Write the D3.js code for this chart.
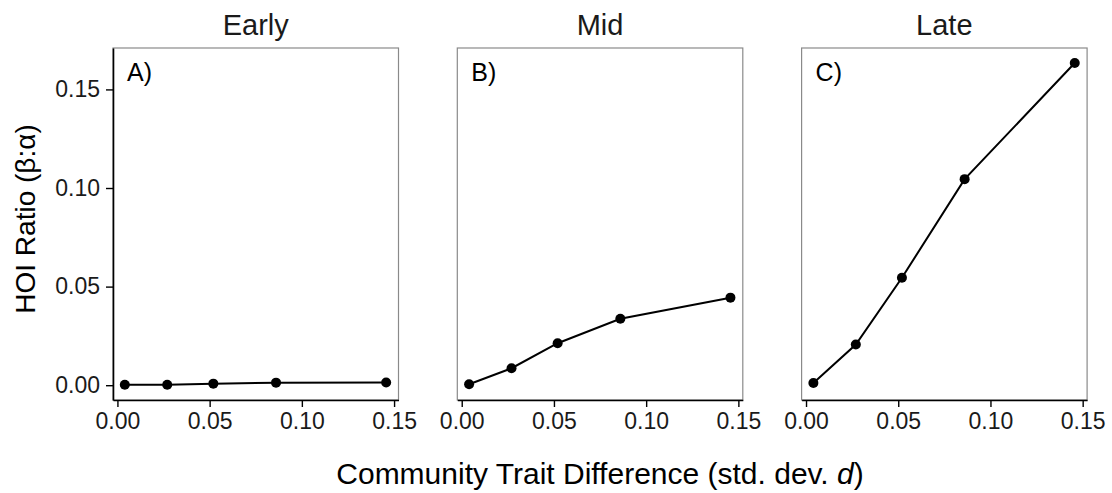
<!DOCTYPE html>
<html>
<head>
<meta charset="utf-8">
<script src="https://cdn.jsdelivr.net/npm/d3@7"></script>
<style>
  html,body{margin:0;padding:0;background:#fff;}
  svg{display:block;font-family:"Liberation Sans",Arial,sans-serif;}
</style>
</head>
<body>
<svg id="chart" width="1112" height="493"></svg>
<script>
// values
const panels=["Early","Mid","Late"];
const panelTags=["A)","B)","C)"];
const traitDiff=[0.004,0.027,0.052,0.086,0.1457];
const hoiEarly=[0.0002,0.0002,0.0008,0.0013,0.0014];
const hoiMid=[0.0005,0.0086,0.0213,0.0337,0.0444];
const hoiLate=[0.0011,0.0206,0.0545,0.1045,0.1634];
const xTicks=[0,0.05,0.10,0.15];
const yTicks=[0,0.05,0.10,0.15];

const series=[hoiEarly,hoiMid,hoiLate];

const svg=d3.select("#chart");
const pTop=48, pBottom=400, left0=113, pw=285.5, step=344.3;

const x=d3.scaleLinear().domain([-0.0024,0.1524]).range([0,pw]);
const y=d3.scaleLinear().domain([-0.0075,0.171]).range([pBottom,pTop]);
const fmt=d3.format(".2f");

panels.forEach((name,i)=>{
  const g=svg.append("g").attr("transform",`translate(${left0+i*step},0)`);

  // panel border
  g.append("rect").attr("x",0).attr("y",pTop).attr("width",pw).attr("height",pBottom-pTop)
    .attr("fill","none").attr("stroke","#8a8a8a").attr("stroke-width",1.2);

  // bottom axis
  g.append("g").attr("transform",`translate(0,${pBottom})`)
    .call(d3.axisBottom(x).tickValues(xTicks).tickFormat(fmt).tickSize(7).tickSizeOuter(0))
    .call(a=>a.select(".domain").attr("stroke","#000").attr("stroke-width",1.6))
    .call(a=>a.selectAll(".tick line").attr("stroke","#000").attr("stroke-width",1.4))
    .call(a=>a.selectAll("text").attr("fill","#1a1a1a").attr("dy","0.71em").attr("y",13)
      .style("font-size","23px"));

  if(i===0){
    g.append("g")
      .call(d3.axisLeft(y).tickValues(yTicks).tickFormat(fmt).tickSize(7).tickSizeOuter(0))
      .call(a=>a.select(".domain").attr("stroke","#000").attr("stroke-width",1.6))
      .call(a=>a.selectAll(".tick line").attr("stroke","#000").attr("stroke-width",1.4))
      .call(a=>a.selectAll("text").attr("fill","#1a1a1a").attr("x",-13)
        .style("font-size","23px"));
  }

  // strip title
  g.append("text").attr("x",pw/2).attr("y",35).attr("text-anchor","middle")
    .attr("fill","#1a1a1a").style("font-size","29px").text(name);

  // panel tag
  g.append("text").attr("x",14).attr("y",81)
    .attr("fill","#000").style("font-size","25px").text(panelTags[i]);

  const pts=traitDiff.map((d,j)=>[d,series[i][j]]);
  g.append("path").datum(pts)
    .attr("d",d3.line().x(d=>x(d[0])).y(d=>y(d[1])))
    .attr("fill","none").attr("stroke","#000").attr("stroke-width",2);
  g.selectAll("circle").data(pts).join("circle")
    .attr("cx",d=>x(d[0])).attr("cy",d=>y(d[1])).attr("r",5).attr("fill","#000");
});

// axis titles
const xt=svg.append("text").attr("x",600).attr("y",484).attr("text-anchor","middle")
  .attr("fill","#000").style("font-size","30px");
xt.append("tspan").text("Community Trait Difference (std. dev. ");
xt.append("tspan").style("font-style","italic").text("d");
xt.append("tspan").text(")");

svg.append("text").attr("transform","translate(35,219) rotate(-90)")
  .attr("text-anchor","middle").attr("fill","#000").style("font-size","28px")
  .text("HOI Ratio (β:α)");
</script>
</body>
</html>
